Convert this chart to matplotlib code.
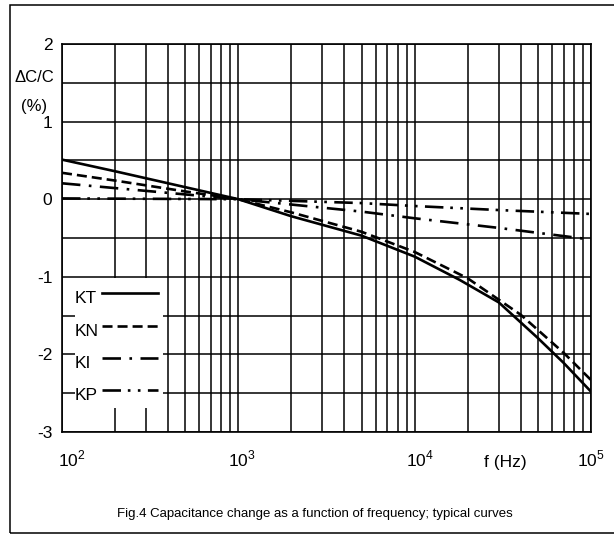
import matplotlib
matplotlib.use("Agg")
import matplotlib.pyplot as plt
import matplotlib.transforms as mtransforms
from matplotlib.patches import Rectangle
from matplotlib.lines import Line2D
from matplotlib.ticker import FixedLocator, NullFormatter

plt.rcParams['font.family'] = ['Liberation Sans', 'DejaVu Sans']
plt.rcParams['mathtext.fontset'] = 'custom'
plt.rcParams['mathtext.rm'] = 'Liberation Sans'

# data (frequency in Hz, dC/C in %)
freq_kt = [100, 200, 500, 1000, 2000, 5000, 10000, 18000, 30000, 50000, 70000, 100000]
kt = [0.51, 0.36, 0.155, 0.0, -0.22, -0.47, -0.74, -1.04, -1.33, -1.79, -2.11, -2.48]

freq_kn = [100, 200, 500, 1000, 2000, 5000, 10000, 20000, 40000, 70000, 100000]
kn = [0.34, 0.24, 0.10, 0.0, -0.17, -0.42, -0.68, -1.02, -1.49, -1.98, -2.33]

freq_ki = [100, 300, 1000, 5000, 10000, 30000, 100000]
ki = [0.205, 0.107, 0.0, -0.16, -0.246, -0.37, -0.52]

freq_kp = [100, 1000, 5000, 10000, 30000, 100000]
kp = [0.01, 0.0, -0.05, -0.088, -0.14, -0.19]

names = ['KT', 'KN', 'KI', 'KP']
styles = ['-', (0, (3.8, 1.9)), (0, (7, 3.2, 1, 3.2)), (0, (7, 2.6, 1, 2.8, 1, 2.8))]

yticks = [-3, -2, -1, 0, 1, 2]
ytick_labels = ['-3', '-2', '-1', '0', '1', '2']
xticks = [1e2, 1e3, 1e4, 1e5]
xtick_labels = ['$10^{2}$', '$10^{3}$', '$10^{4}$', '$10^{5}$']

fig = plt.figure(figsize=(6.14, 5.36), dpi=100)
ax = fig.add_axes([62 / 614, 1 - 432 / 536, 529 / 614, 388 / 536])

lw = 1.9
series = [(freq_kt, kt), (freq_kn, kn), (freq_ki, ki), (freq_kp, kp)]
for (f, v), ls, n in zip(series, styles, names):
    ax.plot(f, v, color='black', lw=lw, linestyle=ls, zorder=4, label=n)

ax.set_xscale('log')
ax.set_xlim(1e2, 1e5)
ax.set_ylim(-3, 2)

# grid: every 0.5 on y, 1..9 per decade on x
ax.yaxis.set_major_locator(FixedLocator(yticks))
ax.yaxis.set_minor_locator(FixedLocator([-2.5, -1.5, -0.5, 0.5, 1.5]))
ax.set_yticklabels(ytick_labels)
ax.xaxis.set_major_locator(FixedLocator(xticks))
minors = [m * 10 ** d for d in range(2, 5) for m in range(2, 10)]
ax.xaxis.set_minor_locator(FixedLocator(minors))
ax.xaxis.set_minor_formatter(NullFormatter())
ax.set_xticklabels(xtick_labels)
ax.grid(True, which='both', color='black', lw=1.1)
ax.set_axisbelow(True)
ax.tick_params(which='both', length=0, labelsize=12.5)
ax.tick_params(axis='y', pad=7)
ax.tick_params(axis='x', pad=12)
for sp in ax.spines.values():
    sp.set_linewidth(1.2)

# shift x labels a little, like the reference
shifts = [10, 4, 5, 0]
for lab, s in zip(ax.get_xticklabels(), shifts):
    lab.set_transform(lab.get_transform() + mtransforms.ScaledTranslation(s / 100, 0, fig.dpi_scale_trans))

# legend block (white patch over the grid)
ax.add_patch(Rectangle((118.5, -2.69), 374 - 118.5, 1.68, facecolor='white',
                       edgecolor='none', zorder=2))
leg_line_y = [0.358, 0.273, 0.191, 0.109]
for n, ls, yy in zip(names, styles, leg_line_y):
    ax.add_line(Line2D([0.075, 0.181], [yy, yy], transform=ax.transAxes,
                       color='black', lw=lw, linestyle=ls, zorder=5))
    ax.text(0.024, yy - 0.014, n, transform=ax.transAxes, fontsize=12.5,
            ha='left', va='center', zorder=5)

# axis texts
fig.text(34 / 614, 1 - 77 / 536, '\u0394C/C', fontsize=12, ha='center', va='center')
fig.text(34 / 614, 1 - 106 / 536, '(%)', fontsize=12, ha='center', va='center')
fig.text(505 / 614, 1 - 463 / 536, 'f (Hz)', fontsize=12.5, ha='center', va='center')
fig.text(315 / 614, 1 - 514 / 536,
         'Fig.4 Capacitance change as a function of frequency; typical curves',
         fontsize=9.5, ha='center', va='center')

# outer frame
fig.add_artist(Rectangle((10 / 614, 3 / 536), 1.0, 1 - 8 / 536, transform=fig.transFigure,
                         facecolor='none', edgecolor='black', lw=1.1, clip_on=False))

fig.savefig('out.png', dpi=100)
